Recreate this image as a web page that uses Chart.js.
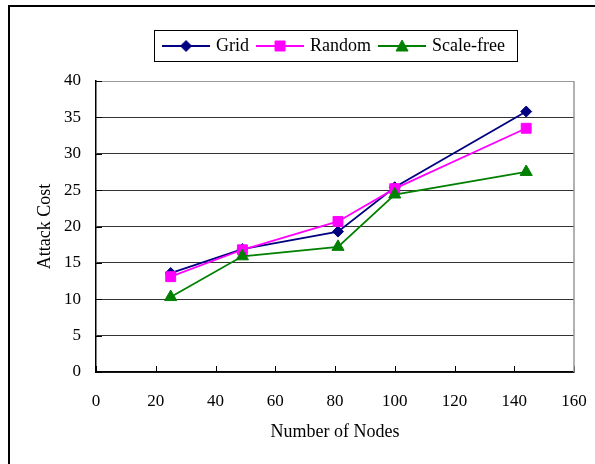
<!DOCTYPE html>
<html>
<head>
<meta charset="utf-8">
<title>Attack Cost</title>
<script src="https://cdn.jsdelivr.net/npm/chart.js@4.4.0/dist/chart.umd.min.js"></script>
<style>
  html, body { margin: 0; padding: 0; background: #fff; overflow: hidden; }
  #wrap { position: relative; width: 595px; height: 464px; overflow: hidden; }
  #frame { position: absolute; left: 8px; top: 5px; width: 700px; height: 600px;
           border: 2px solid #000; box-sizing: border-box; pointer-events: none; }
  canvas { position: absolute; left: 0; top: 0; }
</style>
</head>
<body>
<div id="wrap">
  <canvas id="myChart" width="595" height="464"></canvas>
  <div id="frame"></div>
</div>
<script>
const nodes = [25, 49, 81, 100, 144];
const gridCost = [13.6, 16.9, 19.3, 25.4, 35.8];
const randomCost = [13.1, 16.8, 20.7, 25.2, 33.5];
const scaleFreeCost = [10.3, 15.9, 17.2, 24.4, 27.5];

const seriesNames = ["Grid", "Random", "Scale-free"];
const seriesColors = ['#000080', '#ff00ff', '#008000'];
const xTickRange = [0, 160, 20];
const yTickRange = [0, 40, 5];

const FONT = "'Liberation Serif', 'Times New Roman', serif";

const toPoints = vals => vals.map((v, i) => ({ x: nodes[i], y: v }));

// little line + marker swatch for the legend
function legendIcon(color, shape) {
    const c = document.createElement('canvas');
    c.width = 48; c.height = 16;
    const g = c.getContext('2d');
    g.strokeStyle = color;
    g.fillStyle = color;
    g.lineWidth = 2;
    g.beginPath(); g.moveTo(0, 8); g.lineTo(48, 8); g.stroke();
    g.lineWidth = 1;
    g.beginPath();
    if (shape === 'diamond') {
        g.moveTo(24, 2.5); g.lineTo(29.5, 8); g.lineTo(24, 13.5); g.lineTo(18.5, 8);
    } else if (shape === 'square') {
        g.rect(19, 3, 10, 10);
    } else {
        g.moveTo(24, 2); g.lineTo(30, 13); g.lineTo(18, 13);
    }
    g.closePath(); g.fill(); g.stroke();
    return c;
}
const icons = [
    legendIcon(seriesColors[0], 'diamond'),
    legendIcon(seriesColors[1], 'square'),
    legendIcon(seriesColors[2], 'triangle')
];

const plotDecor = {
    id: 'plotDecor',
    afterLayout(chart) {
        // legend sits centred over the plot box, a bit higher up
        const lg = chart.legend, a = chart.chartArea;
        lg.left = a.left;
        lg.right = a.right;
        lg.top -= 16;
        lg.bottom -= 16;
    },
    beforeDatasetsDraw(chart) {
        const { ctx, chartArea: a, scales: { x, y } } = chart;
        ctx.save();
        ctx.strokeStyle = '#000';
        ctx.lineWidth = 1;
        ctx.beginPath();
        x.ticks.forEach(t => {
            const px = Math.round(x.getPixelForValue(t.value)) + 0.5;
            ctx.moveTo(px, a.bottom); ctx.lineTo(px, a.bottom - 6);
        });
        y.ticks.forEach(t => {
            const py = Math.round(y.getPixelForValue(t.value)) + 0.5;
            ctx.moveTo(a.left, py); ctx.lineTo(a.left + 6, py);
        });
        ctx.stroke();
        ctx.strokeStyle = '#999';
        ctx.lineWidth = 1.5;
        ctx.beginPath();
        ctx.moveTo(a.right, a.top); ctx.lineTo(a.right, a.bottom);
        ctx.stroke();
        ctx.restore();
    },
    afterDraw(chart) {
        const lg = chart.legend;
        const hb = lg.legendHitBoxes;
        if (!hb || !hb.length) return;
        const last = hb[hb.length - 1];
        const cy = hb[0].top + hb[0].height / 2;
        const ctx = chart.ctx;
        ctx.save();
        ctx.strokeStyle = '#000';
        ctx.lineWidth = 1;
        const l = Math.round(hb[0].left - 11) + 0.5;
        const r = Math.round(last.left + last.width + 12) + 0.5;
        const t = Math.round(cy - 16) + 0.5;
        const b = Math.round(cy + 15) + 0.5;
        ctx.strokeRect(l, t, r - l, b - t);
        ctx.restore();
    }
};

const chart = new Chart(document.getElementById('myChart').getContext('2d'), {
    type: 'line',
    data: {
        datasets: [
            {
                label: seriesNames[0],
                data: toPoints(gridCost),
                borderColor: seriesColors[0],
                backgroundColor: seriesColors[0],
                borderWidth: 1.8,
                pointStyle: 'rectRot',
                pointRadius: 5.5,
                pointBorderWidth: 1,
                order: 3
            },
            {
                label: seriesNames[1],
                data: toPoints(randomCost),
                borderColor: seriesColors[1],
                backgroundColor: seriesColors[1],
                borderWidth: 1.8,
                pointStyle: 'rect',
                pointRadius: 7,
                pointBorderWidth: 1,
                order: 2
            },
            {
                label: seriesNames[2],
                data: toPoints(scaleFreeCost),
                borderColor: seriesColors[2],
                backgroundColor: seriesColors[2],
                borderWidth: 1.8,
                pointStyle: 'triangle',
                pointRadius: 7,
                pointBorderWidth: 1,
                order: 1
            }
        ]
    },
    options: {
        responsive: false,
        animation: false,
        layout: { padding: { top: 43, left: 20, right: 21, bottom: 10 } },
        plugins: {
            tooltip: { enabled: false },
            legend: {
                position: 'top',
                labels: {
                    usePointStyle: true,
                    pointStyleWidth: 42,
                    padding: 10,
                    color: '#000',
                    font: { family: FONT, size: 18 },
                    sort: (a, b) => a.datasetIndex - b.datasetIndex,
                    generateLabels(c) {
                        const items = Chart.defaults.plugins.legend.labels.generateLabels(c);
                        items.forEach(it => { it.pointStyle = icons[it.datasetIndex]; });
                        return items;
                    }
                }
            }
        },
        scales: {
            x: {
                type: 'linear',
                min: xTickRange[0],
                max: xTickRange[1],
                afterFit: s => {
                    s.height = 82;
                    // the big label gap shouldn't eat into the plot width
                    s.paddingLeft = 0;
                    s.paddingRight = 0;
                },
                ticks: {
                    stepSize: xTickRange[2],
                    padding: 19,
                    color: '#000',
                    maxRotation: 0,
                    font: { family: FONT, size: 17 }
                },
                grid: { display: false, drawTicks: false },
                border: { display: true, color: '#000', width: 1.5 },
                title: {
                    display: true,
                    text: 'Number of Nodes',
                    color: '#000',
                    font: { family: FONT, size: 18 },
                    padding: { top: 9, bottom: 11 }
                }
            },
            y: {
                min: yTickRange[0],
                max: yTickRange[1],
                afterFit: s => { s.width = 76; },
                ticks: {
                    stepSize: yTickRange[2],
                    padding: 15,
                    color: '#000',
                    font: { family: FONT, size: 17 }
                },
                grid: {
                    drawTicks: false,
                    color: c => c.tick && c.tick.value === yTickRange[1] ? '#9a9a9a' : '#333',
                    lineWidth: 1
                },
                border: { display: true, color: '#000', width: 1.5 },
                title: {
                    display: true,
                    text: 'Attack Cost',
                    color: '#000',
                    font: { family: FONT, size: 18 },
                    padding: { top: 14, bottom: 6 }
                }
            }
        }
    },
    plugins: [plotDecor]
});
</script>
</body>
</html>
